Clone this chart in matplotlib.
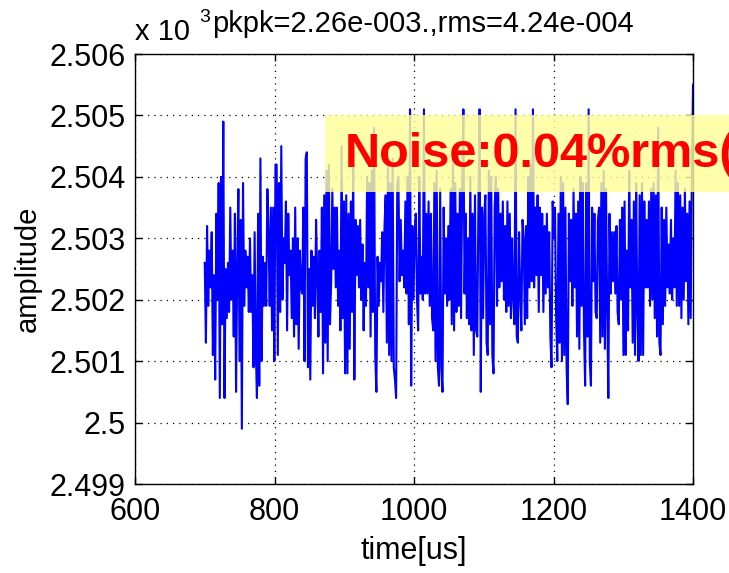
import numpy as np
import matplotlib
matplotlib.use("Agg")
import matplotlib.pyplot as plt
from matplotlib.patches import Rectangle

# ---- data (amplitude, axis units x10^3) ----
seg1 = [2.5026, 2.5013, 2.5032, 2.5019, 2.5028, 2.5022, 2.5031, 2.5011, 2.5024, 2.5007,
        2.5034, 2.5020, 2.5039, 2.5004, 2.5040, 2.5016, 2.5049, 2.5004, 2.5025, 2.5017,
        2.5026, 2.5018, 2.5035, 2.5020, 2.5028, 2.5014, 2.5034, 2.5005, 2.5025, 2.5038,
        2.5010, 2.5033, 2.4999, 2.5039, 2.5019, 2.5028, 2.5022, 2.5027, 2.5018, 2.5030,
        2.5018, 2.5024, 2.5009, 2.5031, 2.5012, 2.5004, 2.5034, 2.5006, 2.5043, 2.5010,
        2.5027, 2.5019, 2.5026, 2.5019, 2.5038, 2.5031, 2.5019, 2.5035, 2.5015, 2.5035,
        2.5010, 2.5042]
seg2 = [2.5042, 2.5011, 2.5039, 2.5018, 2.5045, 2.5020, 2.5030, 2.5026, 2.5036, 2.5015,
        2.5034, 2.5024, 2.5028, 2.5017, 2.5030, 2.5014, 2.5035, 2.5016, 2.5030, 2.5012,
        2.5028, 2.5022, 2.5021, 2.5035, 2.5010, 2.5043, 2.5044, 2.5009, 2.5025, 2.5007,
        2.5028, 2.5019, 2.5027, 2.5017, 2.5033, 2.5024, 2.5014, 2.5028, 2.5018, 2.5035,
        2.5008, 2.5037, 2.5013, 2.5041, 2.5010, 2.5042, 2.5016, 2.5023, 2.5038, 2.5025,
        2.5035, 2.5022, 2.5035, 2.5019, 2.5028, 2.5015, 2.5045, 2.5017, 2.5036, 2.5008]
seg3 = [2.5037, 2.5008, 2.5034, 2.5012, 2.5036, 2.5018, 2.5042, 2.5007, 2.5033, 2.5024,
        2.5032, 2.5022, 2.5033, 2.5020, 2.5029, 2.5015, 2.5026, 2.5019, 2.5040, 2.5022,
        2.5039, 2.5014, 2.5041, 2.5018, 2.5048, 2.5011, 2.5005, 2.5027, 2.5019, 2.5026,
        2.5023, 2.5031, 2.5018, 2.5032, 2.5037, 2.5013, 2.5042, 2.5011, 2.5039, 2.5010,
        2.5043, 2.5009, 2.5007, 2.5004, 2.5039, 2.5040, 2.5023, 2.5033, 2.5024, 2.5028,
        2.5022, 2.5036, 2.5021, 2.5040, 2.5016, 2.5051, 2.5006, 2.5032, 2.5020, 2.5031]
seg4 = [2.5034, 2.5020, 2.5015, 2.5040, 2.5021, 2.5027, 2.5020, 2.5051, 2.5021, 2.5034,
        2.5021, 2.5036, 2.5019, 2.5034, 2.5017, 2.5015, 2.5039, 2.5010, 2.5041, 2.5009,
        2.5006, 2.5038, 2.5009, 2.5005, 2.5035, 2.5021, 2.5030, 2.5019, 2.5032, 2.5020,
        2.5038, 2.5016, 2.5042, 2.5015, 2.5039, 2.5018, 2.5034, 2.5019, 2.5038, 2.5017,
        2.5039, 2.5051, 2.5021, 2.5034, 2.5017, 2.5030, 2.5016, 2.5040, 2.5015, 2.5034,
        2.5011, 2.5037, 2.5015, 2.5014, 2.5036, 2.5051, 2.5005, 2.5035, 2.5017, 2.5034]
seg5 = [2.5037, 2.5013, 2.5011, 2.5041, 2.5016, 2.5040, 2.5011, 2.5008, 2.5035, 2.5040,
        2.5019, 2.5038, 2.5022, 2.5034, 2.5023, 2.5036, 2.5020, 2.5032, 2.5018, 2.5036,
        2.5019, 2.5034, 2.5017, 2.5030, 2.5020, 2.5016, 2.5051, 2.5014, 2.5013, 2.5031,
        2.5021, 2.5015, 2.5033, 2.5030, 2.5016, 2.5032, 2.5017, 2.5040, 2.5022, 2.5042,
        2.5023, 2.5051, 2.5022, 2.5035, 2.5024, 2.5037, 2.5018, 2.5035, 2.5024, 2.5034,
        2.5018, 2.5032, 2.5021, 2.5034, 2.5022, 2.5031, 2.5014, 2.5009, 2.5036, 2.5030]
seg6 = [2.5035, 2.5017, 2.5010, 2.5034, 2.5013, 2.5040, 2.5010, 2.5039, 2.5011, 2.5035,
        2.5009, 2.5003, 2.5034, 2.5023, 2.5033, 2.5019, 2.5038, 2.5022, 2.5034, 2.5014,
        2.5036, 2.5012, 2.5040, 2.5019, 2.5039, 2.5015, 2.5006, 2.5039, 2.5014, 2.5051,
        2.5010, 2.5006, 2.5035, 2.5023, 2.5034, 2.5018, 2.5017, 2.5033, 2.5035, 2.5013,
        2.5039, 2.5014, 2.5041, 2.5012, 2.5038, 2.5019, 2.5004, 2.5034, 2.5021, 2.5031,
        2.5023, 2.5031, 2.5021, 2.5032, 2.5018, 2.5016, 2.5033, 2.5020, 2.5035, 2.5011]
seg7 = [2.5036, 2.5011, 2.5028, 2.5015, 2.5041, 2.5022, 2.5033, 2.5013, 2.5036, 2.5011,
        2.5039, 2.5018, 2.5010, 2.5037, 2.5011, 2.5039, 2.5011, 2.5036, 2.5022, 2.5033,
        2.5022, 2.5036, 2.5019, 2.5038, 2.5020, 2.5039, 2.5017, 2.5037, 2.5014, 2.5048,
        2.5013, 2.5011, 2.5035, 2.5016, 2.5033, 2.5019, 2.5035, 2.5022, 2.5029, 2.5021,
        2.5033, 2.5020, 2.5030, 2.5022, 2.5041, 2.5019, 2.5039, 2.5019, 2.5037, 2.5017,
        2.5035, 2.5020, 2.5038, 2.5023, 2.5034, 2.5016, 2.5036, 2.5017, 2.5040, 2.5055]

t_start, t_end = 700, 1400
xticks = [600, 800, 1000, 1200, 1400]
yticks = [2.499, 2.500, 2.501, 2.502, 2.503, 2.504, 2.505, 2.506]
ytick_labels = ["2.499", "2.5", "2.501", "2.502", "2.503", "2.504", "2.505", "2.506"]
title_text = "pkpk=2.26e-003.,rms=4.24e-004"
note_text = "Noise:0.04%rms("

amp = np.array(seg1 + seg2 + seg3 + seg4 + seg5 + seg6 + seg7)
t = np.linspace(t_start, t_end, len(amp))

plt.rcParams["font.family"] = ["Liberation Sans", "DejaVu Sans"]

W, H = 729, 573
fig = plt.figure(figsize=(W / 100, H / 100), dpi=100)
ax = fig.add_axes([135 / W, 1 - 484 / H, (693 - 135) / W, (484 - 54) / H])

ax.plot(t, amp, color="#0000FF", lw=1.5, zorder=2)

ax.set_xlim(600, 1400)
ax.set_ylim(2.499, 2.506)
ax.set_xticks(xticks)
ax.set_yticks(yticks)
ax.set_yticklabels(ytick_labels)
for lab in ax.get_xticklabels() + ax.get_yticklabels():
    lab.set_fontsize(22)
ax.tick_params(axis="x", direction="in", length=5, width=1, pad=9, top=True)
ax.tick_params(axis="y", direction="in", length=5, width=1, pad=7, right=True)
ax.grid(True, color="black", linestyle=(0, (1, 4)), linewidth=0.9)
for s in ax.spines.values():
    s.set_linewidth(1.0)

ax.set_xlabel("time[us]", fontsize=22)
ax.set_ylabel("amplitude", fontsize=21)
ax.xaxis.set_label_coords(0.5, -0.122)
ax.yaxis.set_label_coords(-0.167, 0.5)

# exponent label and title (overlapping as in the source)
fig.text(135 / W, 1 - 40 / H, "x 10", fontsize=21, ha="left", va="baseline")
fig.text(199 / W, 1 - 22 / H, "3", fontsize=14, ha="left", va="baseline")
fig.text(423 / W, 1 - 32 / H, title_text, fontsize=21, ha="center", va="baseline")

# yellow annotation box
rect = Rectangle((872, 2.50375), 700, 0.00125, facecolor="#FFFF99", edgecolor="none",
                 alpha=0.82, clip_on=False, zorder=3)
ax.add_patch(rect)
ax.text(901, 2.50436, note_text, color="#FF0000", fontsize=35, fontweight="bold",
        ha="left", va="center", clip_on=False, zorder=4)

fig.savefig("out.png", dpi=100)
